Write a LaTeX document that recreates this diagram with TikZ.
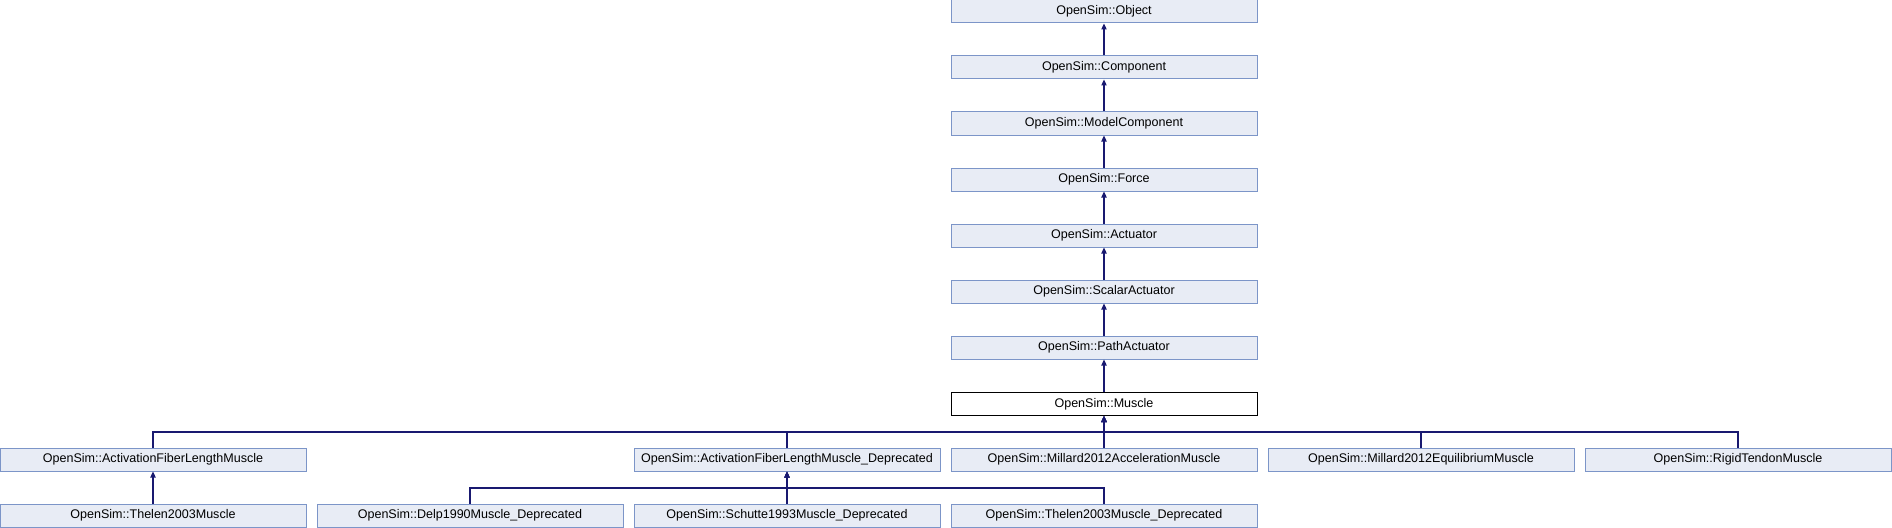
\documentclass[tikz,border=0pt]{standalone}
\usepackage{fontspec}
\setmainfont{Liberation Sans}
\usetikzlibrary{arrows.meta}
\definecolor{boxfill}{HTML}{E8ECF5}
\definecolor{boxline}{HTML}{7C95C8}
\definecolor{edgecol}{HTML}{191970}
\begin{document}
\begin{tikzpicture}[x=0.75pt,y=-0.75pt,
  cls/.style={draw=boxline,fill=boxfill,line width=0.75pt,text width=229.5pt,align=center,minimum height=17.25pt,inner sep=0pt,font=\fontsize{9.4}{11}\selectfont},
  cur/.style={cls,draw=black,fill=white},
  edge/.style={draw=edgecol,line width=0.8pt,-{Triangle[width=4pt,length=4.5pt]}}]
\useasboundingbox (0,0) rectangle (1892,528);
\node[cls] (obj) at (1104,11.5) {OpenSim::Object};
\node[cls] (comp) at (1104,67.5) {OpenSim::Component};
\node[cls] (mc) at (1104,123.5) {OpenSim::ModelComponent};
\node[cls] (force) at (1104,179.5) {OpenSim::Force};
\node[cls] (act) at (1104,235.5) {OpenSim::Actuator};
\node[cls] (sact) at (1104,291.5) {OpenSim::ScalarActuator};
\node[cls] (pact) at (1104,347.5) {OpenSim::PathActuator};
\node[cur] (mus) at (1104,404) {OpenSim::Muscle};
\node[cls] (afl) at (153,459.5) {OpenSim::ActivationFiberLengthMuscle};
\node[cls] (afld) at (787,459.5) {OpenSim::ActivationFiberLengthMuscle\_Deprecated};
\node[cls] (mam) at (1104,459.5) {OpenSim::Millard2012AccelerationMuscle};
\node[cls] (mem) at (1421,459.5) {OpenSim::Millard2012EquilibriumMuscle};
\node[cls] (rtm) at (1738,459.5) {OpenSim::RigidTendonMuscle};
\node[cls] (th) at (153,515.5) {OpenSim::Thelen2003Muscle};
\node[cls] (delp) at (470,515.5) {OpenSim::Delp1990Muscle\_Deprecated};
\node[cls] (sch) at (787,515.5) {OpenSim::Schutte1993Muscle\_Deprecated};
\node[cls] (thd) at (1104,515.5) {OpenSim::Thelen2003Muscle\_Deprecated};
\coordinate (b1) at (1104,432);
\coordinate (b2) at (787,488);
\draw[edge] (comp.north) -- (obj.south);
\draw[edge] (mc.north) -- (comp.south);
\draw[edge] (force.north) -- (mc.south);
\draw[edge] (act.north) -- (force.south);
\draw[edge] (sact.north) -- (act.south);
\draw[edge] (pact.north) -- (sact.south);
\draw[edge] (mus.north) -- (pact.south);
\draw[edge] (afl.north) |- (b1) -- (mus.south);
\draw[edge] (afld.north) |- (b1) -- (mus.south);
\draw[edge] (mam.north) -- (mus.south);
\draw[edge] (mem.north) |- (b1) -- (mus.south);
\draw[edge] (rtm.north) |- (b1) -- (mus.south);
\draw[edge] (th.north) -- (afl.south);
\draw[edge] (delp.north) |- (b2) -- (afld.south);
\draw[edge] (sch.north) -- (afld.south);
\draw[edge] (thd.north) |- (b2) -- (afld.south);
\end{tikzpicture}
\end{document}
